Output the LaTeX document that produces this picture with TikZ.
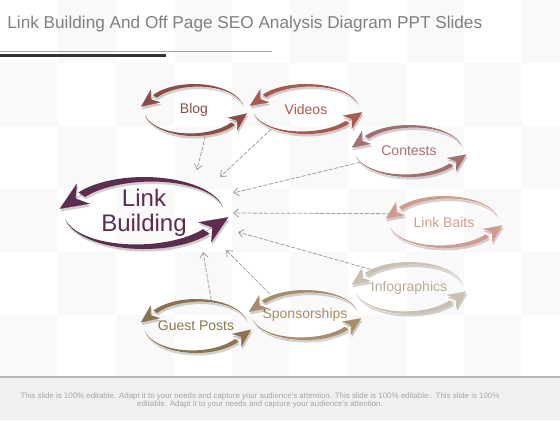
\documentclass[tikz,border=0pt]{standalone}
\usepackage{fontspec}
\setmainfont{Liberation Sans}
\usetikzlibrary{arrows.meta,shapes.geometric}

\definecolor{lbc}{HTML}{5C2D4E}
\definecolor{blogc}{HTML}{8E4B48}
\definecolor{videoc}{HTML}{A9594D}
\definecolor{contc}{HTML}{A66F6F}
\definecolor{baitc}{HTML}{D39A8E}
\definecolor{infoc}{HTML}{CBBFAE}
\definecolor{guestc}{HTML}{8B7350}
\definecolor{sponc}{HTML}{A68D6B}
\definecolor{titlec}{HTML}{7F7F7F}
\definecolor{bgc}{HTML}{F9F9F9}
\definecolor{footc}{HTML}{F0F0F0}

% one looping band with its two heads, around the origin
\newcommand{\swirlpath}[5]{% rx, ry, thickness, tip length, tip width
  \fill plot[domain=350:215,samples=30] ({#1*cos(\x)},{#2*sin(\x)})
    -- plot[domain=215:350,samples=30] ({(#1-#3*(350-\x)/135)*cos(\x)},{(#2-#3*(350-\x)/135)*sin(\x)}) -- cycle;
  \fill plot[domain=170:35,samples=30] ({#1*cos(\x)},{#2*sin(\x)})
    -- plot[domain=35:170,samples=30] ({(#1-#3*(170-\x)/135)*cos(\x)},{(#2-#3*(170-\x)/135)*sin(\x)}) -- cycle;
  \draw[line width=0.1pt, -{Stealth[length=#4,width=#5]}]
    ({(#1-#3/2)*cos(215)},{(#2-#3/2)*sin(215)}) -- ++({0.48*#1*sin(215)},{-0.48*#2*cos(215)});
  \draw[line width=0.1pt, -{Stealth[length=#4,width=#5]}]
    ({(#1-#3/2)*cos(35)},{(#2-#3/2)*sin(35)}) -- ++({0.48*#1*sin(35)},{-0.48*#2*cos(35)});
}
\newcommand{\swirl}[7]{% node, rx, ry, colour, thickness, tip length, tip width
  \begin{scope}[shift={(#1.center)}]
    \begin{scope}[shift={(1,2.5)}, color=black, opacity=0.18]
      \swirlpath{#2}{#3}{#5}{#6}{#7}
    \end{scope}
    \begin{scope}[color=#4]
      \swirlpath{#2}{#3}{#5}{#6}{#7}
    \end{scope}
  \end{scope}}

\begin{document}
\begin{tikzpicture}[x=0.5pt, y=-0.5pt,
    item/.style={ellipse, inner sep=0pt, minimum width=104pt, minimum height=26pt,
      font=\fontsize{7}{8}\selectfont},
    hub/.style={ellipse, inner sep=0pt, minimum width=80pt, minimum height=36pt,
      align=center, text=lbc, font=\fontsize{12}{12.5}\selectfont},
    feed/.style={draw=gray!75, line width=0.4pt, dash pattern=on 2pt off 0.8pt,
      -{Straight Barb[length=2.5pt,width=4pt]}}]
    \useasboundingbox (0,0) rectangle (560,420);

    % checker background
    \foreach \i in {0,...,9}{
      \foreach \j in {0,...,5}{
        \ifodd\numexpr\i+\j\relax
          \fill[bgc] (\i*58,\j*63) rectangle ++(58,63);
        \fi}}

    % title
    \node[anchor=base west, inner sep=0pt, text=titlec,
      font=\fontsize{8.6}{10}\selectfont] (title) at (7,28)
      {Link Building And Off Page SEO Analysis Diagram PPT Slides};
    \draw[gray!70, line width=0.5pt] (0,51.5) -- (272,51.5);
    \draw[black!80, line width=1.3pt] (0,55.5) -- (166,55.5);

    % footer
    \fill[footc] (0,377) rectangle (560,420);
    \draw[gray!55, line width=0.8pt] (0,377) -- (560,377);
    \node[align=center, text=gray!70, font=\fontsize{3.95}{4}\selectfont] (note) at (260,400)
      {This slide is 100\% editable. Adapt it to your needs and capture your audience's attention. This slide is 100\% editable.. This slide is 100\%\\
       editable. Adapt it to your needs and capture your audience's attention.};

    % nodes
    \node[hub] (lb) at (144,213) {Link\\Building};
    \node[item, minimum width=50pt, text=blogc] (blog) at (194,110) {Blog};
    \node[item, minimum width=53pt, text=videoc] (videos) at (306,109) {Videos};
    \node[item, minimum width=54pt, text=contc] (contests) at (409,151) {Contests};
    \node[item, minimum width=55pt, text=baitc] (baits) at (444,222) {Link Baits};
    \node[item, minimum width=54pt, text=infoc!90!black] (info) at (409,288) {Infographics};
    \node[item, minimum width=53pt, text=sponc] (spon) at (305,315) {Sponsorships};
    \node[item, minimum width=52pt, minimum height=27pt, text=guestc] (guest) at (196,326) {Guest Posts};

    \swirl{lb}{80}{36}{lbc}{8}{14pt}{12pt}
    \swirl{blog}{50}{26}{blogc}{4.5}{9pt}{8pt}
    \swirl{videos}{53}{25}{videoc}{4.5}{9pt}{8pt}
    \swirl{contests}{54}{26}{contc}{4.5}{9pt}{8pt}
    \swirl{baits}{55}{26}{baitc}{4.5}{9pt}{8pt}
    \swirl{info}{54}{26}{infoc}{4.5}{9pt}{8pt}
    \swirl{spon}{53}{25}{sponc}{4.5}{9pt}{8pt}
    \swirl{guest}{52}{27}{guestc}{4.5}{9pt}{8pt}

    % feeding arrows
    \coordinate (e1) at (197,170);
    \coordinate (e2) at (220,177);
    \coordinate (e3) at (233,193);
    \coordinate (e4) at (233,213);
    \coordinate (e5) at (238,232);
    \coordinate (e6) at (226,250);
    \coordinate (e7) at (203,252);
    \draw[feed] (blog.-66) -- (e1);
    \draw[feed] (videos.210) -- (e2);
    \draw[feed] (contests.193) -- (e3);
    \draw[feed] (baits.171) -- (e4);
    \draw[feed] (info.154) -- (e5);
    \draw[feed] (spon.149) -- (e6);
    \draw[feed] (guest.60) -- (e7);
\end{tikzpicture}
\end{document}
